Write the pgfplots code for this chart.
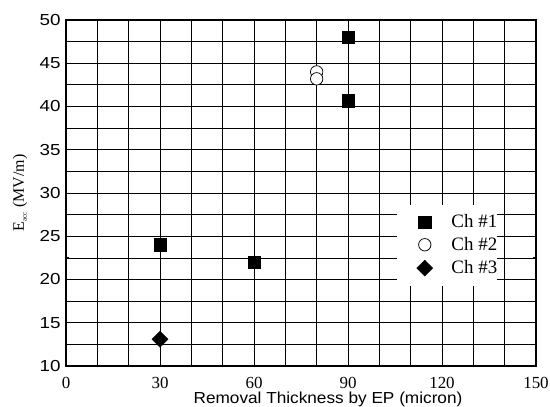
\documentclass[border=0pt]{standalone}
\usepackage{pgfplots}
\pgfplotsset{compat=1.18}
\usepackage{fontspec}
\setmainfont{Liberation Serif}
\newfontfamily\arialtick[FakeStretch=1.18]{Liberation Sans}
\newfontfamily\ariallab[FakeStretch=1.08]{Liberation Sans}
\begin{document}
\begin{tikzpicture}
\begin{axis}[
  name=ax,
  scale only axis, width=470bp, height=346bp,
  xmin=0, xmax=150, ymin=10, ymax=50,
  xtick={0,30,...,150}, minor xtick={10,20,40,50,70,80,100,110,130,140},
  ytick={10,15,...,50}, minor ytick={12.5,17.5,...,47.5},
  grid=both,
  major grid style={black, line width=0.75pt},
  minor grid style={black, line width=0.75pt},
  axis line style={black, line width=1.1pt},
  tick style={black, line width=0.8pt},
  tick align=inside,
  major tick length=4bp, minor tick length=3bp,
  xticklabel style={font=\fontsize{17}{17}\selectfont, anchor=base, yshift=-22bp},
  yticklabel style={font=\arialtick\fontsize{16}{16}\selectfont, xshift=-2bp},
  /pgf/number format/assume math mode=true,
  xlabel={\ariallab\fontsize{16}{16}\selectfont Removal Thickness by EP (micron)},
  xlabel style={at={(axis description cs:0.5,0)}, anchor=base, yshift=-37bp, xshift=27bp},
  ylabel={\fontsize{16}{16}\selectfont E\textsubscript{\fontsize{7}{7}\selectfont acc} (MV/m)},
  ylabel style={at={(axis description cs:-0.0894,0.5)}, anchor=base, rotate=0},
  legend style={at={(axis cs:105.6,28.6)}, anchor=north west, draw=none, fill=white,
    font=\fontsize{19}{19}\selectfont, inner xsep=0pt, inner ysep=9.5bp,
    nodes={inner sep=0pt}, row sep=8bp},
  legend cell align=left,
  legend image code/.code={\path (-27.5bp,0) (26.5bp,0); \draw[#1] plot coordinates {(0bp,0bp)};},
]
\addplot[only marks, mark=square*, mark size=6.3bp, black] coordinates {(30,24) (60,22) (90,48) (90,40.7)};
\addlegendentry{Ch \#1\hspace{6bp}}
\addplot[only marks, mark=*, mark size=6.2bp, black, mark options={fill=white, line width=0.75pt}] coordinates {(80,44) (80,43.2)};
\addlegendentry{Ch \#2\hspace{6bp}}
\addplot[only marks, mark=square*, mark size=5.7bp, black, mark options={rotate=45}] coordinates {(30,13.1)};
\addlegendentry{Ch \#3\hspace{6bp}}
\end{axis}
\pgfresetboundingbox
\path ([shift={(-66bp,-41bp)}]ax.south west) rectangle ([shift={(14bp,20bp)}]ax.north east);
\end{tikzpicture}
\end{document}
